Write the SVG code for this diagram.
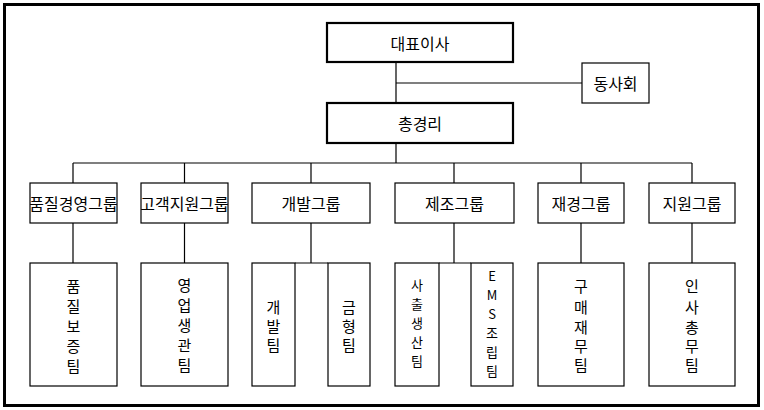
<svg xmlns="http://www.w3.org/2000/svg" width="764" height="410" viewBox="0 0 764 410">
<style>
text{font-family:"Noto Sans CJK KR","Noto Sans",sans-serif;fill:#000;dominant-baseline:central;text-anchor:middle}
.t{font-size:16px}
.v{font-size:15px}
.s{font-size:13px}
.box{fill:#fff;stroke:#000;stroke-width:1.2}
.bold{fill:#fff;stroke:#000;stroke-width:2.2}
.ln{stroke:#000;stroke-width:1.2;fill:none}
</style>
<defs>
<clipPath id="c1"><rect x="30" y="183" width="87" height="40"/></clipPath>
<clipPath id="c2"><rect x="141" y="183" width="87" height="40"/></clipPath>
</defs>
<rect x="4.5" y="4.5" width="754" height="401" fill="#fff" stroke="#000" stroke-width="3"/>
<g id="connectors">
<path class="ln" d="M396 62V103M396 83H582M396 143V163M73 163H692M73 163V183M184.5 163V183M311 163V183M454 163V183M581 163V183M692 163V183"/>
<path class="ln" d="M73 223V263M184.5 223V263M311 223V263M295 263H328M454 223V263M439 263H471M581 223V263M692 223V263"/>
</g>
<g id="ceo"><rect class="bold" x="327" y="23" width="186" height="39"/><text class="t" x="420" y="43">대표이사</text></g>
<g id="board"><rect class="box" x="582" y="63" width="67" height="40"/><text class="t" x="615.5" y="83">동사회</text></g>
<g id="gm"><rect class="bold" x="327" y="103" width="186" height="40"/><text class="t" x="420" y="123">총경리</text></g>
<g id="g1"><rect class="box" x="30" y="183" width="87" height="40"/><text class="t" x="73.5" y="203" clip-path="url(#c1)">품질경영그룹</text></g>
<g id="g2"><rect class="box" x="141" y="183" width="87" height="40"/><text class="t" x="184.5" y="203" clip-path="url(#c2)">고객지원그룹</text></g>
<g id="g3"><rect class="box" x="252" y="183" width="118" height="40"/><text class="t" x="311" y="203">개발그룹</text></g>
<g id="g4"><rect class="box" x="395" y="183" width="119" height="40"/><text class="t" x="454.5" y="203">제조그룹</text></g>
<g id="g5"><rect class="box" x="538" y="183" width="86" height="40"/><text class="t" x="581" y="203">재경그룹</text></g>
<g id="g6"><rect class="box" x="649" y="183" width="86" height="40"/><text class="t" x="692" y="203">지원그룹</text></g>
<g id="t1"><rect class="box" x="30" y="263" width="87" height="123"/><text class="v"><tspan x="73.5" y="285">품</tspan><tspan x="73.5" y="305">질</tspan><tspan x="73.5" y="325">보</tspan><tspan x="73.5" y="345">증</tspan><tspan x="73.5" y="365">팀</tspan></text></g>
<g id="t2"><rect class="box" x="141" y="263" width="87" height="123"/><text class="v"><tspan x="184.5" y="284">영</tspan><tspan x="184.5" y="304">업</tspan><tspan x="184.5" y="324">생</tspan><tspan x="184.5" y="344">관</tspan><tspan x="184.5" y="364">팀</tspan></text></g>
<g id="t3"><rect class="box" x="252" y="263" width="43" height="123"/><text class="v"><tspan x="273.5" y="306">개</tspan><tspan x="273.5" y="325">발</tspan><tspan x="273.5" y="344">팀</tspan></text></g>
<g id="t4"><rect class="box" x="328" y="263" width="42" height="123"/><text class="v"><tspan x="349" y="306">금</tspan><tspan x="349" y="325">형</tspan><tspan x="349" y="344">팀</tspan></text></g>
<g id="t5"><rect class="box" x="395" y="263" width="44" height="123"/><text class="s"><tspan x="417" y="284">사</tspan><tspan x="417" y="303">출</tspan><tspan x="417" y="322">생</tspan><tspan x="417" y="341">산</tspan><tspan x="417" y="360">팀</tspan></text></g>
<g id="t6"><rect class="box" x="471" y="263" width="42" height="123"/><text class="s"><tspan x="492" y="275">E</tspan><tspan x="492" y="294">M</tspan><tspan x="492" y="313">S</tspan><tspan x="492" y="332">조</tspan><tspan x="492" y="351">립</tspan><tspan x="492" y="370">팀</tspan></text></g>
<g id="t7"><rect class="box" x="538" y="263" width="86" height="123"/><text class="v"><tspan x="581" y="285">구</tspan><tspan x="581" y="306">매</tspan><tspan x="581" y="326">재</tspan><tspan x="581" y="345">무</tspan><tspan x="581" y="364">팀</tspan></text></g>
<g id="t8"><rect class="box" x="649" y="263" width="86" height="123"/><text class="v"><tspan x="692" y="285">인</tspan><tspan x="692" y="306">사</tspan><tspan x="692" y="326">총</tspan><tspan x="692" y="345">무</tspan><tspan x="692" y="364">팀</tspan></text></g>
</svg>
